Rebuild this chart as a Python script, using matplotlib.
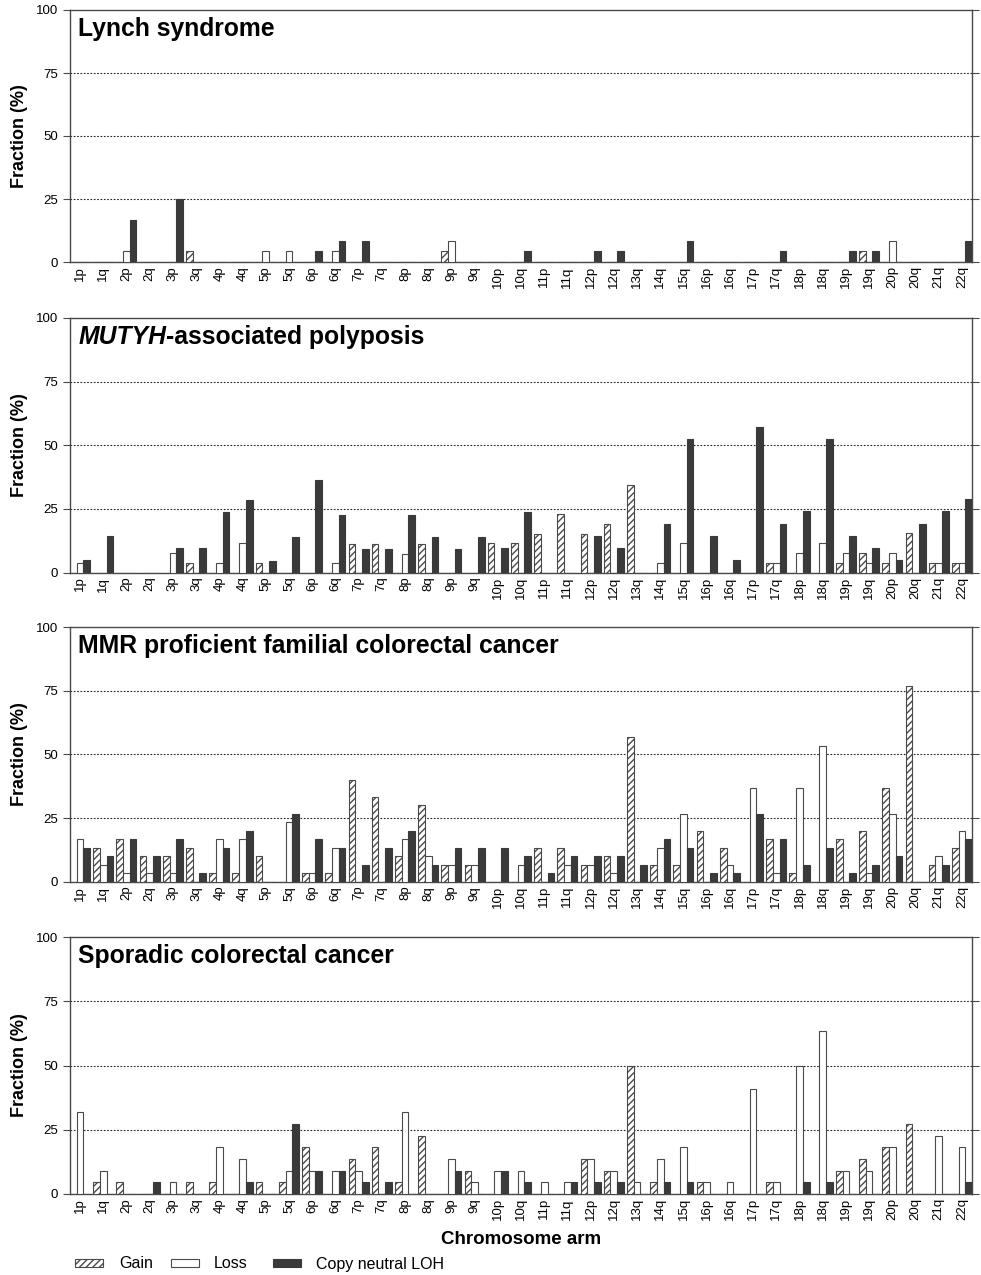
import matplotlib
matplotlib.use("Agg")
import matplotlib.pyplot as plt
import matplotlib.patches as mpatches
import numpy as np

plt.rcParams['font.family'] = ['Liberation Sans', 'DejaVu Sans']
plt.rcParams['hatch.linewidth'] = 1.0

arms = ['1p', '1q', '2p', '2q', '3p', '3q', '4p', '4q', '5p', '5q', '6p', '6q',
        '7p', '7q', '8p', '8q', '9p', '9q', '10p', '10q', '11p', '11q', '12p', '12q',
        '13q', '14q', '15q', '16p', '16q', '17p', '17q', '18p', '18q', '19p', '19q',
        '20p', '20q', '21q', '22q']

# ---- Lynch syndrome ----
lynch_gain = [0, 0, 0, 0, 0, 4.2,  0, 0, 0, 0, 0, 0,  0, 0, 0, 0, 4.2, 0,
              0, 0, 0, 0, 0, 0,  0, 0, 0, 0, 0, 0,  0, 0, 0, 0, 4.2, 0,  0, 0, 0]
lynch_loss = [0, 0, 4.2, 0, 0, 0,  0, 0, 4.2, 4.2, 0, 4.2,  0, 0, 0, 0, 8.3, 0,
              0, 0, 0, 0, 0, 0,  0, 0, 0, 0, 0, 0,  0, 0, 0, 0, 0, 8.3,  0, 0, 0]
lynch_cnloh = [0, 0, 16.7, 0, 25, 0,  0, 0, 0, 0, 4.2, 8.3,  8.3, 0, 0, 0, 0, 0,
               0, 4.2, 0, 0, 4.2, 4.2,  0, 0, 8.3, 0, 0, 0,  4.2, 0, 0, 4.2, 4.2, 0,
               0, 0, 8.3]

# ---- MUTYH-associated polyposis ----
map_gain = [0, 0, 0, 0, 0, 3.8,  0, 0, 3.6, 0, 0, 0,  11.1, 11.2, 0, 11.2, 0, 0,
            11.6, 11.5, 15.2, 22.8, 15.2, 19.0,  34.5, 0, 0, 0, 0, 0,
            3.7, 0, 0, 3.7, 7.6, 3.7,  15.4, 3.7, 3.7]
map_loss = [3.8, 0, 0, 0, 7.6, 0,  3.8, 11.5, 0, 0, 0, 3.6,  0, 0, 7.3, 0, 0, 0,
            0, 0, 0, 0, 0, 0,  0, 3.9, 11.5, 0, 0, 0,  3.7, 7.6, 11.5, 7.6, 3.7, 7.6,
            0, 3.7, 3.7]
map_cnloh = [4.9, 14.3, 0, 0, 9.5, 9.5,  23.8, 28.6, 4.6, 13.8, 36.5, 22.7,
             9.2, 9.2, 22.7, 13.8, 9.2, 13.8,  9.6, 23.8, 0, 0, 14.3, 9.6,
             0, 18.9, 52.6, 14.4, 5.0, 57.3,  19.1, 24.0, 52.6, 14.4, 9.6, 5.0,
             19.1, 24.0, 28.8]

# ---- MMR proficient familial colorectal cancer ----
mmr_gain = [0, 13.3, 16.7, 10, 10, 13.3,  3.3, 3.3, 10, 0, 3.3, 3.3,
            40, 33.3, 10, 30, 6.7, 6.7,  0, 0, 13.3, 13.3, 6.7, 10,
            56.7, 6.7, 6.7, 20, 13.3, 0,  16.7, 3.3, 0, 16.7, 20, 36.7,
            76.7, 6.7, 13.3]
mmr_loss = [16.7, 6.7, 3.3, 3.3, 3.3, 0,  16.7, 16.7, 0, 23.3, 3.3, 13.3,
            0, 0, 16.7, 10, 6.7, 6.7,  0, 6.7, 0, 6.7, 6.7, 3.3,
            0, 13.3, 26.7, 0, 6.7, 36.7,  3.3, 36.7, 53.3, 0, 3.3, 26.7,
            0, 10, 20]
mmr_cnloh = [13.3, 10, 16.7, 10, 16.7, 3.3,  13.3, 20, 0, 26.7, 16.7, 13.3,
             6.7, 13.3, 20, 6.7, 13.3, 13.3,  13.3, 10, 3.3, 10, 10, 10,
             6.7, 16.7, 13.3, 3.3, 3.3, 26.7,  16.7, 6.7, 13.3, 3.3, 6.7, 10,
             0, 6.7, 16.7]

# ---- Sporadic colorectal cancer ----
spo_gain = [0, 4.5, 4.5, 0, 0, 4.5,  4.5, 0, 4.5, 4.5, 18.2, 0,
            13.6, 18.2, 4.5, 22.7, 0, 9.1,  0, 0, 0, 0, 13.6, 9.1,
            50, 4.5, 0, 4.5, 0, 0,  4.5, 0, 0, 9.1, 13.6, 18.2,
            27.3, 0, 0]
spo_loss = [31.8, 9.1, 0, 0, 4.5, 0,  18.2, 13.6, 0, 9.1, 9.1, 9.1,
            9.1, 0, 31.8, 0, 13.6, 4.5,  9.1, 9.1, 4.5, 4.5, 13.6, 9.1,
            4.5, 13.6, 18.2, 4.5, 4.5, 40.9,  4.5, 50, 63.6, 9.1, 9.1, 18.2,
            0, 22.7, 18.2]
spo_cnloh = [0, 0, 0, 4.5, 0, 0,  0, 4.5, 0, 27.3, 9.1, 9.1,
             4.5, 4.5, 0, 0, 9.1, 0,  9.1, 4.5, 0, 4.5, 4.5, 4.5,
             0, 4.5, 4.5, 0, 0, 0,  0, 4.5, 4.5, 0, 0, 0,
             0, 0, 4.5]

panels = [
    ("Lynch syndrome", lynch_gain, lynch_loss, lynch_cnloh),
    ("MUTYH", map_gain, map_loss, map_cnloh),
    ("MMR proficient familial colorectal cancer", mmr_gain, mmr_loss, mmr_cnloh),
    ("Sporadic colorectal cancer", spo_gain, spo_loss, spo_cnloh),
]
legend_labels = ["Gain", "Loss", "Copy neutral LOH"]

W, H = 981, 1275
fig = plt.figure(figsize=(W / 100, H / 100), dpi=100)

left_px, right_px = 70, 972
panel_px = [(10, 262), (318, 572.5), (627, 881.7), (937, 1194)]

EDGE = '#4a4a4a'
DARK = '#3a3a3a'
w = 0.288
x = np.arange(len(arms))
TFS = 17.8

for (title, g, l, c), (top, bot) in zip(panels, panel_px):
    ax = fig.add_axes([left_px / W, 1 - bot / H, (right_px - left_px) / W, (bot - top) / H])
    ax.bar(x - w, g, width=w, facecolor='white', edgecolor=EDGE, hatch='/////',
           linewidth=0.8, zorder=3)
    ax.bar(x, l, width=w, facecolor='white', edgecolor=EDGE, linewidth=0.8, zorder=3)
    ax.bar(x + w, c, width=w, facecolor=DARK, edgecolor=DARK, linewidth=0.8, zorder=3)
    ax.set_xlim(-1.5 * w, len(arms) - 1 + 1.5 * w)
    ax.set_ylim(0, 100)
    ax.set_yticks([0, 25, 50, 75, 100])
    for yv in [25, 50, 75]:
        ax.axhline(yv, color='#222222', linestyle=(0, (1.5, 1.5)), linewidth=0.8, zorder=1)
    ax.set_xticks(x)
    ax.set_xticklabels(arms, rotation=90, fontsize=9.5)
    ax.tick_params(axis='x', length=0, pad=3)
    ax.tick_params(axis='y', direction='out', length=5, width=0.8, color=EDGE,
                   labelsize=9.5, right=True, labelright=False)
    for sp in ax.spines.values():
        sp.set_color(EDGE)
        sp.set_linewidth(1.0)
    ax.set_ylabel("Fraction (%)", fontsize=13, fontweight='bold', labelpad=6)
    ty = 1 - 19 / (bot - top)
    if title == "MUTYH":
        t1 = ax.text(0.009, ty, "MUTYH", transform=ax.transAxes, fontsize=TFS,
                     fontweight='bold', fontstyle='italic', va='center', ha='left')
        ax.annotate("-associated polyposis", xy=(1, 0.5), xycoords=t1, fontsize=TFS,
                    fontweight='bold', va='center', ha='left')
    else:
        ax.text(0.009, ty, title, transform=ax.transAxes, fontsize=TFS,
                fontweight='bold', va='center', ha='left')

fig.text((left_px + right_px) / 2 / W, 1 - 1240 / H, "Chromosome arm", fontsize=13.5,
         fontweight='bold', ha='center', va='center')

# legend drawn manually at the bottom
leg_styles = [
    dict(facecolor='white', edgecolor=EDGE, hatch='/////', linewidth=0.8),
    dict(facecolor='white', edgecolor=EDGE, linewidth=0.8),
    dict(facecolor=DARK, edgecolor=DARK, linewidth=0.8),
]
patch_x = [75, 171, 273]
text_x = [119, 214, 316]
for px, tx, st, lab in zip(patch_x, text_x, leg_styles, legend_labels):
    fig.patches.append(mpatches.Rectangle((px / W, 1 - 1267 / H), 28 / W, 8 / H,
                                          transform=fig.transFigure, figure=fig, **st))
    fig.text(tx / W, 1 - 1264 / H, lab, fontsize=11.5, ha='left', va='center')

fig.savefig("out.png", dpi=100)
